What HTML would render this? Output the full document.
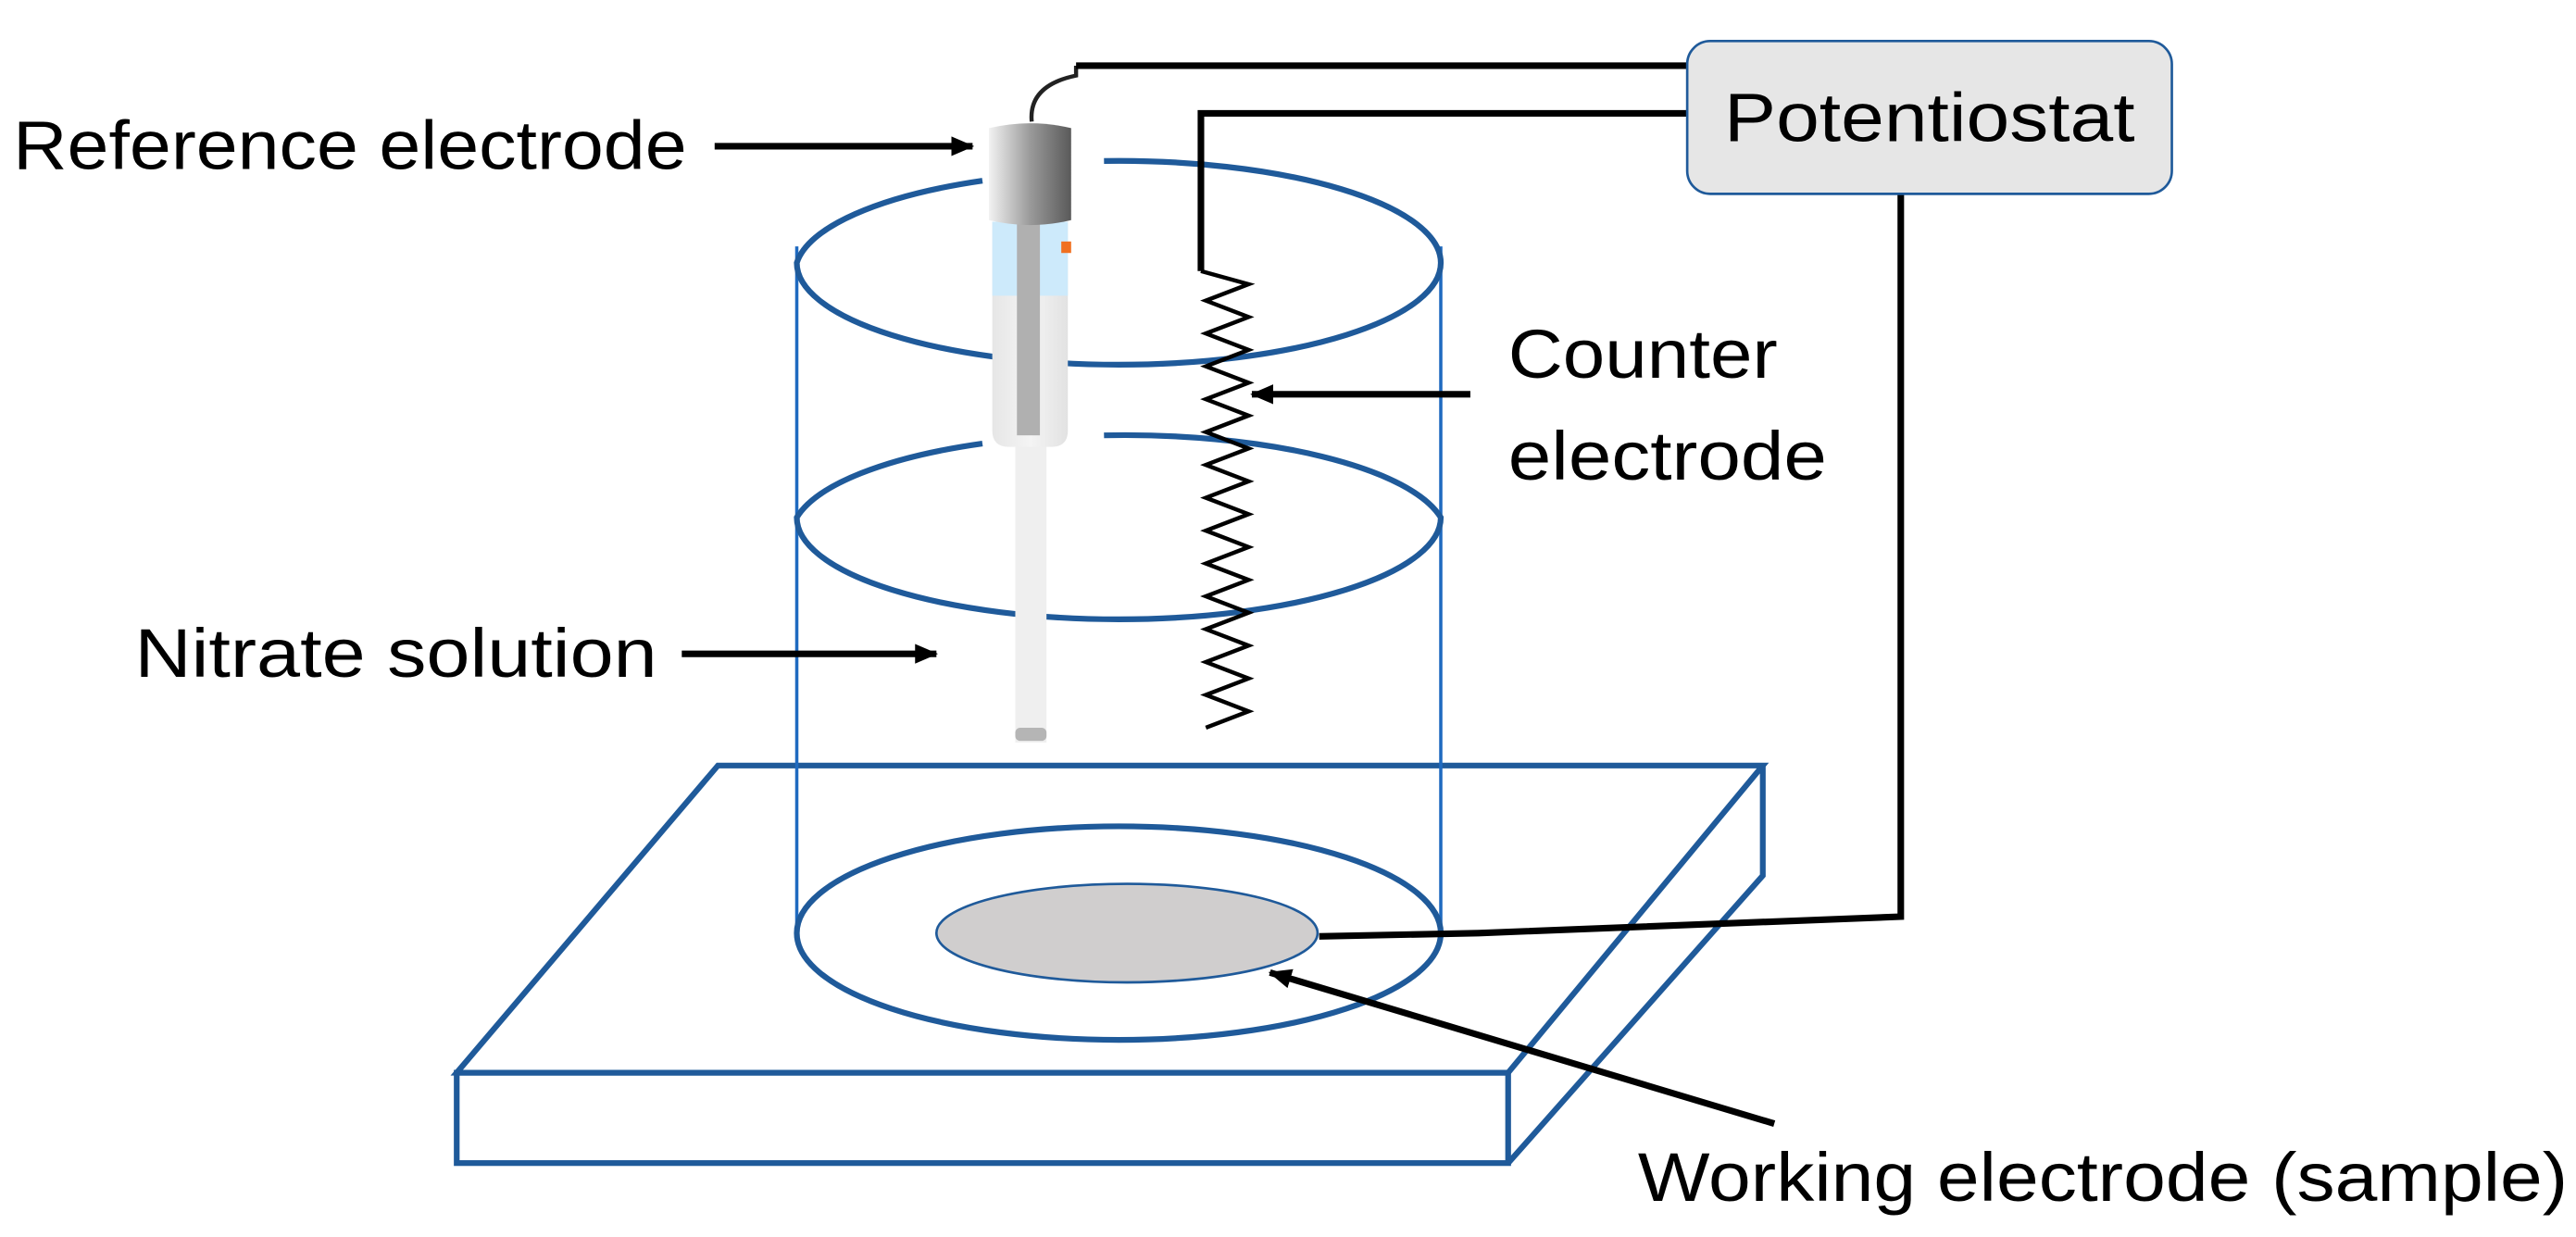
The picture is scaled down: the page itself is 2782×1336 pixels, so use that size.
<!DOCTYPE html>
<html><head><meta charset="utf-8"><style>html,body{margin:0;padding:0;background:#fff}svg{display:block}</style></head>
<body>
<svg width="2782" height="1336" viewBox="0 0 1568 753" preserveAspectRatio="none" xmlns="http://www.w3.org/2000/svg">
<defs>
<linearGradient id="cap" x1="0" x2="1"><stop offset="0" stop-color="#f2f2f2"/><stop offset="0.5" stop-color="#9a9a9a"/><stop offset="1" stop-color="#5a5a5a"/></linearGradient>
<linearGradient id="body" x1="0" x2="1"><stop offset="0" stop-color="#e6e6e6"/><stop offset="0.5" stop-color="#f4f4f4"/><stop offset="1" stop-color="#e2e2e2"/></linearGradient>
<marker id="ah" markerWidth="14" markerHeight="12" refX="13" refY="6" orient="auto" markerUnits="userSpaceOnUse"><path d="M0,0 L14,6 L0,12 z" fill="#000"/></marker>
</defs>
<g font-family="Liberation Sans, sans-serif" font-size="42" fill="#000">
<text x="8" y="103" textLength="410" lengthAdjust="spacingAndGlyphs">Reference electrode</text>
<text x="918" y="230" textLength="164" lengthAdjust="spacingAndGlyphs">Counter</text>
<text x="918" y="292" textLength="194" lengthAdjust="spacingAndGlyphs">electrode</text>
<text x="82" y="412" textLength="318" lengthAdjust="spacingAndGlyphs">Nitrate solution</text>
<text x="997" y="731" textLength="566" lengthAdjust="spacingAndGlyphs">Working electrode (sample)</text>
</g>
<g fill="none" stroke="#1f5a9a" stroke-width="3.5" stroke-linejoin="miter">
<polygon points="437,466 1073,466 918,653 278,653"/>
<rect x="278" y="653" width="640" height="55"/>
<polyline points="1073,466 1073,533 918,708"/>
</g>
<g stroke="#1f6ac0" stroke-width="2" fill="none">
<line x1="485" y1="150" x2="485" y2="568"/>
<line x1="877" y1="150" x2="877" y2="568"/>
</g>
<g fill="none" stroke="#1f5a9a" stroke-width="3.5">
<ellipse cx="681" cy="568" rx="196" ry="65"/>
<path d="M598,110 A196,62 0 0 0 485,160 A196,62 0 0 0 681,222 A196,62 0 0 0 877,160 A196,62 0 0 0 672,98"/>
<path d="M598,270 A196,62 0 0 0 485,315 A196,62 0 0 0 681,377 A196,62 0 0 0 877,315 A196,62 0 0 0 672,265"/>
</g>
<ellipse cx="686" cy="568" rx="116" ry="30" fill="#d0cece" stroke="#1f5a9a" stroke-width="1.5"/>
<rect x="618" y="260" width="19" height="192" fill="#efefef"/>
<rect x="618" y="443" width="19" height="8" rx="3" fill="#b5b5b5"/>
<path d="M604,135 H650 V262 Q650,272 640,272 H614 Q604,272 604,262 Z" fill="url(#body)"/>
<rect x="604" y="135" width="46" height="45" fill="#cdeafb"/>
<rect x="619" y="135" width="14" height="130" fill="#b0b0b0"/>
<rect x="646" y="147" width="6" height="7" fill="#f07020"/>
<path d="M602,78 Q627,72 652,78 V134 Q627,140 602,134 Z" fill="url(#cap)"/>
<path d="M628,74 Q626,52 655,46 L655,40" fill="none" stroke="#222" stroke-width="2.5"/>
<g fill="none" stroke="#000" stroke-width="4">
<polyline points="655,40 1027,40"/>
<polyline points="1027,69 731,69 731,165"/>
<polyline points="803,570 900,568 1157,558 1157,117"/>
</g>
<polyline fill="none" stroke="#000" stroke-width="2.5" points="731,165 760,173 734,183 760,193 734,203 760,213 734,223 760,233 734,243 760,253 734,263 760,273 734,283 760,293 734,303 760,313 734,323 760,333 734,343 760,353 734,363 760,373 734,383 760,393 734,403 760,413 734,423 760,433 734,443"/>
<rect x="1027" y="25" width="295" height="93" rx="14" fill="#e6e6e6" stroke="#1f5a9a" stroke-width="1.5"/>
<text x="1174.5" y="86" text-anchor="middle" font-family="Liberation Sans, sans-serif" font-size="42" textLength="250" lengthAdjust="spacingAndGlyphs">Potentiostat</text>
<g stroke="#000" stroke-width="4" marker-end="url(#ah)">
<line x1="435" y1="89" x2="592" y2="89"/>
<line x1="895" y1="240" x2="762" y2="240"/>
<line x1="415" y1="398" x2="570" y2="398"/>
<line x1="1080" y1="684" x2="773" y2="592"/>
</g>
</svg>
</body></html>
